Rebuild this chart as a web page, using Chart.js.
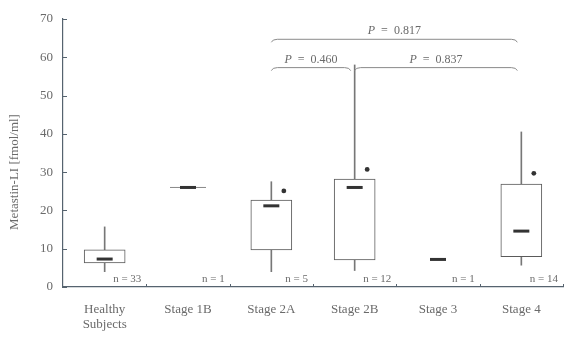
<!DOCTYPE html>
<html>
<head>
<meta charset="utf-8">
<script src="https://cdn.jsdelivr.net/npm/chart.js@4/dist/chart.umd.min.js"></script>
<style>
  html, body { margin: 0; padding: 0; background: #fff; }
  #wrap { width: 564px; height: 337px; }
</style>
</head>
<body>
<div id="wrap"><canvas id="c" width="564" height="337"></canvas></div>
<script>
// ---- data ----
const categories = [['Healthy', 'Subjects'], 'Stage 1B', 'Stage 2A', 'Stage 2B', 'Stage 3', 'Stage 4'];
const whiskerMin = [4.0, null, 4.0, 4.3, null, 5.7];
const quartile1  = [6.3, null, 9.7, 7.05, null, 7.9];
const medians    = [7.3, 26.0, 21.2, 26.0, 7.2, 14.6];
const quartile3  = [9.7, null, 22.7, 28.2, null, 26.9];
const whiskerMax = [15.7, null, 27.5, 58.0, null, 40.5];
const singleValueLine = [null, 26.0, null, null, null, null];
const meanDots   = [null, null, 25.1, 30.7, null, 29.7];
const nLabels    = ['n = 33', 'n = 1', 'n = 5', 'n = 12', 'n = 1', 'n = 14'];
const yTicks     = [0, 10, 20, 30, 40, 50, 60, 70];
const compFrom   = [2, 3, 2];
const compTo     = [3, 5, 5];
const compLevel  = [57.3, 57.3, 64.7];
const compP      = ['0.460', '0.837', '0.817'];
const yTitle     = 'Metastin-LI [fmol/ml]';

// ---- styles ----
const TEXT = '#6a6a6a';
const AXIS = '#56636f';
const BOXC = '#5a5a5a';
const FONT = '"Liberation Serif", "Times New Roman", serif';
const DOT_OFFSET = 0.15; // fraction of a category width, to the right of centre

const boxData = quartile1.map((v, i) => (v == null ? null : [v, quartile3[i]]));
const whiskerData = whiskerMin.map((v, i) => (v == null ? null : [v, whiskerMax[i]]));

const annot = {
  id: 'annot',
  afterDatasetsDraw(chart) {
    const { ctx, scales } = chart;
    const x = scales.x, y = scales.y;
    const catW = x.getPixelForValue(1) - x.getPixelForValue(0);
    ctx.save();
    ctx.fillStyle = '#333';
    meanDots.forEach((v, i) => {
      if (v == null) return;
      ctx.beginPath();
      ctx.arc(x.getPixelForValue(i) + DOT_OFFSET * catW, y.getPixelForValue(v), 2.4, 0, Math.PI * 2);
      ctx.fill();
    });
    ctx.restore();
  },
  afterDraw(chart) {
    const { ctx, chartArea: a, scales } = chart;
    const x = scales.x, y = scales.y;
    ctx.save();
    // inward y ticks
    ctx.strokeStyle = AXIS; ctx.lineWidth = 1;
    yTicks.forEach(t => {
      const py = Math.round(y.getPixelForValue(t)) + 0.5;
      ctx.beginPath(); ctx.moveTo(a.left, py); ctx.lineTo(a.left + 4, py); ctx.stroke();
    });
    // x ticks at category boundaries
    for (let i = 1; i <= categories.length; i++) {
      const px = Math.round(x.getPixelForValue(i - 0.5)) + 0.5;
      ctx.beginPath(); ctx.moveTo(px, a.bottom); ctx.lineTo(px, a.bottom - 3); ctx.stroke();
    }
    // n labels
    ctx.fillStyle = TEXT;
    ctx.font = '11px ' + FONT;
    ctx.textAlign = 'right'; ctx.textBaseline = 'middle';
    nLabels.forEach((t, i) => {
      const px = x.getPixelForValue(i + 0.5) - 5;
      ctx.fillText(t, px, a.bottom - 8);
    });
    // comparison brackets
    ctx.strokeStyle = '#8a8a8a'; ctx.lineWidth = 1;
    compFrom.forEach((f, k) => {
      const x1 = x.getPixelForValue(f), x2 = x.getPixelForValue(compTo[k]) - 4;
      const py = y.getPixelForValue(compLevel[k]);
      ctx.beginPath();
      ctx.moveTo(x1, py + 3);
      ctx.quadraticCurveTo(x1 + 1, py, x1 + 6, py);
      ctx.lineTo(x2 - 6, py);
      ctx.quadraticCurveTo(x2 - 1, py, x2, py + 3);
      ctx.stroke();
      const cx = (x1 + x2) / 2;
      ctx.fillStyle = TEXT;
      ctx.textBaseline = 'middle';
      ctx.font = 'italic 12px ' + FONT;
      const pW = ctx.measureText('P').width;
      ctx.font = '12px ' + FONT;
      const rest = '  =  ' + compP[k];
      const rW = ctx.measureText(rest).width;
      const sx = cx - (pW + rW) / 2;
      ctx.textAlign = 'left';
      ctx.font = 'italic 12px ' + FONT;
      ctx.fillText('P', sx, py - 8);
      ctx.font = '12px ' + FONT;
      ctx.fillText(rest, sx + pW, py - 8);
    });
    // y axis title
    ctx.fillStyle = TEXT;
    ctx.font = '13px ' + FONT;
    ctx.textAlign = 'center'; ctx.textBaseline = 'middle';
    ctx.translate(15, 172);
    ctx.rotate(-Math.PI / 2);
    ctx.fillText(yTitle, 0, 0);
    ctx.restore();
  }
};

new Chart(document.getElementById('c'), {
  type: 'bar',
  data: {
    labels: categories,
    datasets: [
      {
        type: 'line', data: medians, showLine: false, order: 0,
        pointStyle: 'line', pointRadius: 8, pointBorderWidth: 3,
        pointBorderColor: '#333', pointBackgroundColor: '#333'
      },
      {
        type: 'line', data: singleValueLine, showLine: false, order: 1,
        pointStyle: 'line', pointRadius: 18, pointBorderWidth: 1,
        pointBorderColor: '#888'
      },
      {
        data: boxData, grouped: false, order: 2, barThickness: 41,
        backgroundColor: '#ffffff', borderColor: BOXC, borderWidth: 1, borderSkipped: false
      },
      {
        data: whiskerData, grouped: false, order: 3, barThickness: 1,
        backgroundColor: '#777', borderWidth: 0
      }
    ]
  },
  options: {
    responsive: false,
    animation: false,
    events: [],
    layout: { autoPadding: false, padding: { top: 19, right: 1, left: 0, bottom: 0 } },
    plugins: { legend: { display: false }, tooltip: { enabled: false }, title: { display: false } },
    scales: {
      x: {
        offset: true,
        grid: { display: false },
        border: { display: true, color: AXIS, width: 1.2 },
        ticks: { color: TEXT, font: { family: FONT, size: 13, lineHeight: 1.15 }, padding: 7, maxRotation: 0, autoSkip: false },
        afterFit(s) { s.height = 50; s.paddingLeft = 0; s.paddingRight = 0; }
      },
      y: {
        min: 0, max: 70,
        afterBuildTicks(s) { s.ticks = yTicks.map(v => ({ value: v })); },
        grid: { display: false },
        border: { display: true, color: AXIS, width: 1.2 },
        ticks: { color: TEXT, font: { family: FONT, size: 13 }, padding: 2 },
        afterFit(s) { s.width = 63; }
      }
    }
  },
  plugins: [annot]
});
</script>
</body>
</html>
